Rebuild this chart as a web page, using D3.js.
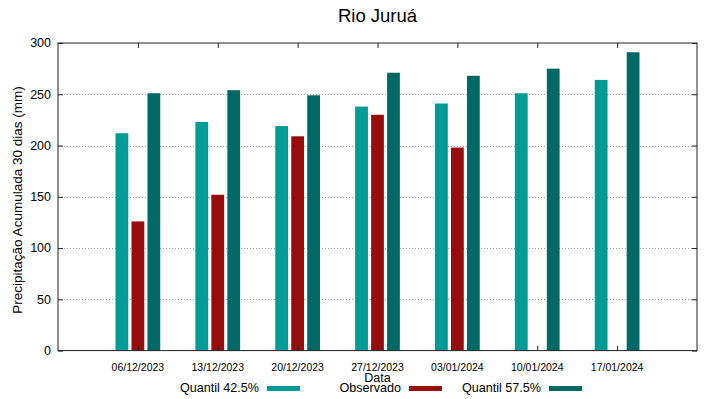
<!DOCTYPE html>
<html>
<head>
<meta charset="utf-8">
<script src="https://cdn.jsdelivr.net/npm/d3@7"></script>
<style>
  body { margin: 0; background: #fff; }
  text { font-family: "Liberation Sans", Arial, sans-serif; fill: #000; }
</style>
</head>
<body>
<svg id="chart" width="719" height="399"></svg>
<script>
// data
var datas = ["06/12/2023", "13/12/2023", "20/12/2023", "27/12/2023", "03/01/2024", "10/01/2024", "17/01/2024"];
var q425 = [212, 223, 219, 238, 241, 251, 264];
var observado = [126, 152, 209, 230, 198, null, null];
var q575 = [251, 254, 249, 271, 268, 275, 291];
var yTicks = [0, 50, 100, 150, 200, 250, 300];

var series = [
  { name: "Quantil 42.5%", values: q425, color: "#009a97", off: -0.2 },
  { name: "Observado", values: observado, color: "#990c0c", off: 0 },
  { name: "Quantil 57.5%", values: q575, color: "#006865", off: 0.2 }
];

var svg = d3.select("#chart");
var pLeft = 58, pRight = 697, pTop = 43, pBottom = 350.6;

var x = d3.scaleLinear().domain([-1, datas.length]).range([pLeft, pRight]);
var y = d3.scaleLinear().domain([0, 300]).range([pBottom, pTop]);
var barW = x(0.16) - x(0);

// grid
svg.selectAll(".grid")
  .data(yTicks.filter(function(d){ return d > 0 && d < 300; }))
  .enter().append("line")
  .attr("x1", pLeft).attr("x2", pRight)
  .attr("y1", function(d){ return Math.round(y(d)) + 0.5; })
  .attr("y2", function(d){ return Math.round(y(d)) + 0.5; })
  .attr("stroke", "#a0a0a0")
  .attr("stroke-width", 1)
  .attr("stroke-dasharray", "1,2");

// bars
series.forEach(function(s){
  svg.append("g").selectAll("rect")
    .data(s.values.map(function(v, i){ return { v: v, i: i }; }).filter(function(d){ return d.v != null; }))
    .enter().append("rect")
    .attr("x", function(d){ return x(d.i + s.off) - barW / 2; })
    .attr("y", function(d){ return y(d.v); })
    .attr("width", barW)
    .attr("height", function(d){ return y(0) - y(d.v); })
    .attr("fill", s.color);
});

// axes, ticks inside and mirrored
var ax = svg.append("g");
ax.append("g").attr("transform", "translate(0," + pBottom + ")")
  .call(d3.axisTop(x).tickValues(d3.range(datas.length)).tickSize(5).tickFormat(""));
ax.append("g").attr("transform", "translate(0," + pTop + ")")
  .call(d3.axisBottom(x).tickValues(d3.range(datas.length)).tickSize(5).tickFormat(""));
ax.append("g").attr("transform", "translate(" + pLeft + ",0)")
  .call(d3.axisRight(y).tickValues(yTicks).tickSize(5).tickFormat(""));
ax.append("g").attr("transform", "translate(" + pRight + ",0)")
  .call(d3.axisLeft(y).tickValues(yTicks).tickSize(5).tickFormat(""));
ax.selectAll(".domain").remove();
ax.selectAll("line").attr("stroke", "#222");

svg.append("rect")
  .attr("x", pLeft).attr("y", pTop)
  .attr("width", pRight - pLeft).attr("height", pBottom - pTop)
  .attr("fill", "none").attr("stroke", "#222").attr("stroke-width", 1);

// tick labels
svg.selectAll(".yl").data(yTicks).enter().append("text")
  .attr("x", pLeft - 7).attr("y", function(d){ return y(d); })
  .attr("dy", "0.35em").attr("text-anchor", "end")
  .style("font-size", "12.5px")
  .text(function(d){ return d; });

svg.selectAll(".xl").data(datas).enter().append("text")
  .attr("x", function(d, i){ return x(i); }).attr("y", 367)
  .attr("dy", "0.35em").attr("text-anchor", "middle")
  .style("font-size", "10.5px")
  .text(function(d){ return d; });

// titles
svg.append("text").attr("x", (pLeft + pRight) / 2).attr("y", 16).attr("dy", "0.35em")
  .attr("text-anchor", "middle").style("font-size", "18.5px").text("Rio Juruá");

svg.append("text").attr("x", (pLeft + pRight) / 2).attr("y", 378).attr("dy", "0.35em")
  .attr("text-anchor", "middle").style("font-size", "12.5px").text("Data");

svg.append("text")
  .attr("transform", "translate(17,200) rotate(-90)")
  .attr("dy", "0.35em").attr("text-anchor", "middle")
  .style("font-size", "13.5px")
  .text("Precipitação Acumulada 30 dias (mm)");

// legend
var legX = [259, 401, 541];
series.forEach(function(s, k){
  svg.append("text").attr("x", legX[k]).attr("y", 388).attr("dy", "0.35em")
    .attr("text-anchor", "end").style("font-size", "12.6px").text(s.name);
  svg.append("rect").attr("x", legX[k] + 8).attr("y", 386).attr("width", 33).attr("height", 5)
    .attr("fill", s.color);
});
</script>
</body>
</html>
